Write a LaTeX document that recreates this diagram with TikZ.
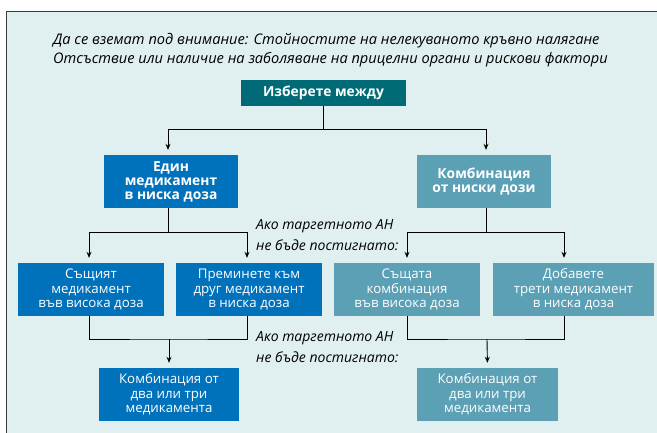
\documentclass[tikz,border=0pt]{standalone}
\usepackage{fontspec}
\setmainfont{Open Sans}
\usetikzlibrary{arrows.meta}
\definecolor{bgc}{RGB}{224,239,239}
\definecolor{framec}{RGB}{60,60,60}
\definecolor{tealc}{RGB}{0,107,119}
\definecolor{bluec}{RGB}{0,114,188}
\definecolor{greyc}{RGB}{91,160,181}
\tikzset{
  box/.style={minimum height=53pt, inner sep=1pt, align=center, text=white, font=\fontsize{13.3}{14.5}\selectfont},
  bluebox/.style={box, fill=bluec},
  greybox/.style={box, fill=greyc},
  boldtxt/.style={font=\bfseries\fontsize{13.8}{14}\selectfont},
  conn/.style={black, line width=0.9pt},
  arr/.style={conn, -{Stealth[length=6pt,width=5pt]}, shorten >=5pt},
  note/.style={align=left, anchor=west, inner sep=0pt, font=\itshape\fontsize{14}{21}\selectfont}
}
\begin{document}
\begin{tikzpicture}[x=1pt,y=-1pt]
\useasboundingbox (0,0) rectangle (657,432);
\clip (0,0) rectangle (657,432);
\fill[white] (0,0) rectangle (657,432);
\draw[framec, line width=1.5pt, fill=bgc] (6.5,11.5) rectangle (720,500);

\node[anchor=west, align=left, inner sep=0pt, font=\itshape\fontsize{14.6}{19}\selectfont] (title) at (53,50.5)
  {Да се вземат под внимание: Стойностите на нелекуваното кръвно налягане\\Отсъствие или наличие на заболяване на прицелни органи и рискови фактори};

\node[box, fill=tealc, minimum width=165pt, minimum height=26pt, boldtxt] (top) at (323.5,93) {Изберете между};
\node[bluebox, minimum width=134pt, boldtxt] (A) at (171,181.5) {Един\\медикамент\\в ниска доза};
\node[greybox, minimum width=134pt, boldtxt] (B) at (484,181.5) {Комбинация\\от ниски дози};

\node[bluebox, minimum width=146pt] (C1) at (91,289.5) {Същият\\медикамент\\във висока доза};
\node[bluebox, minimum width=146pt] (C2) at (249,289.5) {Преминете към\\друг медикамент\\в ниска доза};
\node[greybox, minimum width=146pt] (C3) at (407,289.5) {Същата\\комбинация\\във висока доза};
\node[greybox, minimum width=161pt] (C4) at (573.5,289.5) {Добавете\\трети медикамент\\в ниска доза};

\node[bluebox, minimum width=140pt] (D1) at (169,394.5) {Комбинация от\\два или три\\медикамента};
\node[greybox, minimum width=141pt] (D2) at (487.5,394.5) {Комбинация от\\два или три\\медикамента};

\node[note] (n1) at (256,235.5) {Ако таргетното АН\\не бъде постигнато:};
\node[note] (n2) at (256,347) {Ако таргетното АН\\не бъде постигнато:};

% level 1
\coordinate (j0) at (323.5,129);
\draw[conn] (top.south) -- (j0);
\draw[arr] (j0) -| ([xshift=-3pt]A.north);
\draw[arr] (j0) -| ([xshift=2pt]B.north);
% level 2
\coordinate (j1) at (168,232);
\coordinate (j2) at (486,232);
\draw[conn] ([xshift=-3pt]A.south) -- (j1);
\draw[arr] (j1) -| ([xshift=-2pt]C1.north);
\draw[arr] (j1) -| ([xshift=-2pt]C2.north);
\draw[conn] ([xshift=2pt]B.south) -- (j2);
\draw[arr] (j2) -| (C3.north);
\draw[arr] (j2) -| ([xshift=-9.5pt]C4.north);
% level 3
\coordinate (k1) at (169,339);
\coordinate (k2) at (487,339);
\draw[conn] ([xshift=-2pt]C1.south) |- (k1) -| ([xshift=-2pt]C2.south);
\draw[arr] (k1) -- (D1.north);
\draw[conn] (C3.south) |- (k2) -| ([xshift=-9.5pt]C4.south);
\draw[arr] (k2) -- (D2.north);
\end{tikzpicture}
\end{document}
